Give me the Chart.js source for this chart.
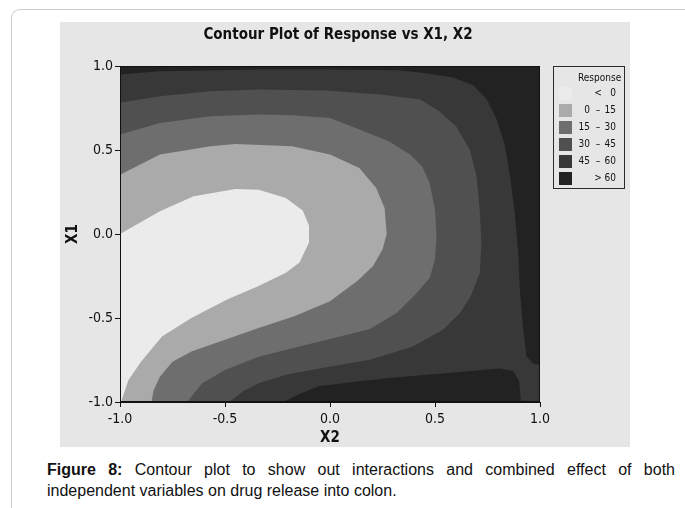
<!DOCTYPE html>
<html lang="en">
<head>
<meta charset="utf-8">
<title>Contour Plot of Response vs X1, X2</title>
<script src="https://cdn.jsdelivr.net/npm/chart.js@4.4.1/dist/chart.umd.min.js"></script>
<style>
  html, body { margin: 0; padding: 0; background: #fff; }
  body { position: relative; width: 685px; height: 508px; overflow: hidden; }
  .page-edge {
    position: absolute; left: 11px; top: 9px; width: 720px; height: 540px;
    border-top: 1.5px solid #cbcbcb; border-left: 1.5px solid #cbcbcb;
    border-top-left-radius: 9px;
  }
  .panel { position: absolute; left: 60px; top: 22px; width: 570px; height: 425px; background: #e6e6e6; }
  .caption {
    position: absolute; left: 47px; top: 459px; width: 628px; color: #111;
    font: 16px/21px 'Liberation Sans', Arial, sans-serif;
  }
  .caption .first { text-align: justify; text-align-last: justify; }
</style>
</head>
<body>
<div class="page-edge"></div>
<div class="panel"><canvas id="contour"></canvas></div>
<div class="caption">
  <div class="first"><b>Figure 8:</b> Contour plot to show out interactions and combined effect of both</div>
  <div>independent variables on drug release into colon.</div>
</div>
<script>
const FONT = "'DejaVu Sans Condensed', 'DejaVu Sans', sans-serif";

// --- Data ---
const x2Range = [-1, 1];
const x1Range = [-1, 1];
const tickValues = [-1, -0.5, 0, 0.5, 1];
const levels = [0, 15, 30, 45, 60];

// contour lines as [X2, X1] pairs, from the left/top edge round to the bottom edge
const line0 = [
  [-1.00, 0.00], [-0.81, 0.135], [-0.65, 0.225], [-0.45, 0.268], [-0.34, 0.264],
  [-0.21, 0.215], [-0.13, 0.14], [-0.10, 0.05], [-0.10, -0.05], [-0.145, -0.17],
  [-0.21, -0.23], [-0.34, -0.31], [-0.49, -0.39], [-0.66, -0.50], [-0.80, -0.61],
  [-0.90, -0.76], [-0.96, -0.87], [-0.995, -1.00]
];
const line15 = [
  [-1.00, 0.353], [-0.81, 0.473], [-0.57, 0.522], [-0.45, 0.536], [-0.18, 0.522],
  [0.00, 0.473], [0.14, 0.393], [0.22, 0.274], [0.26, 0.155], [0.27, 0.00],
  [0.25, -0.093], [0.205, -0.19], [0.13, -0.28], [0.00, -0.40], [-0.17, -0.49],
  [-0.34, -0.56], [-0.50, -0.63], [-0.66, -0.70], [-0.75, -0.76], [-0.81, -0.85],
  [-0.84, -0.93], [-0.85, -1.00]
];
const line30 = [
  [-1.00, 0.592], [-0.81, 0.661], [-0.57, 0.701], [-0.34, 0.711], [-0.18, 0.707],
  [0.00, 0.691], [0.14, 0.622], [0.28, 0.552], [0.38, 0.475], [0.44, 0.40],
  [0.475, 0.30], [0.50, 0.145], [0.507, -0.01], [0.50, -0.15], [0.475, -0.26],
  [0.41, -0.355], [0.316, -0.471], [0.19, -0.565], [0.00, -0.625], [-0.18, -0.68],
  [-0.34, -0.73], [-0.50, -0.81], [-0.61, -0.89], [-0.68, -1.00]
];
const line45 = [
  [-1.00, 0.781], [-0.81, 0.82], [-0.57, 0.85], [-0.34, 0.86], [-0.02, 0.854],
  [0.24, 0.83], [0.43, 0.80], [0.52, 0.731], [0.60, 0.641], [0.666, 0.502],
  [0.698, 0.343], [0.713, 0.145], [0.721, -0.054], [0.713, -0.232], [0.67, -0.37],
  [0.618, -0.471], [0.538, -0.57], [0.395, -0.67], [0.19, -0.749], [-0.05, -0.80],
  [-0.21, -0.838], [-0.34, -0.888], [-0.415, -0.938], [-0.48, -1.00]
];
const line60Upper = [
  [-1.00, 0.949], [-0.81, 0.969], [-0.34, 0.979], [0.00, 0.979], [0.32, 0.975],
  [0.43, 0.962], [0.586, 0.932], [0.682, 0.885], [0.745, 0.805], [0.793, 0.685],
  [0.833, 0.525], [0.857, 0.345], [0.88, 0.125], [0.896, -0.113], [0.904, -0.33],
  [0.92, -0.57], [0.936, -0.729], [0.968, -0.773], [1.00, -0.779]
];
const line60Lower = [
  [0.909, -1.00], [0.901, -0.876], [0.872, -0.816], [0.809, -0.80], [0.586, -0.825],
  [0.268, -0.858], [-0.05, -0.905], [-0.15, -0.955], [-0.22, -1.00]
];

const bandColors = ['#ebebeb', '#aaaaaa', '#6e6e6e', '#505050', '#383838', '#222222'];

// legend columns: "low  –  high"
const legendLow = ['', ...levels.slice(0, -1).map(String), ''];
const legendSym = ['<', ...levels.slice(1).map(() => '–'), '>'];
const legendHigh = [String(levels[0]), ...levels.slice(1).map(String), String(levels[levels.length - 1])];

// --- Filled bands: each is "response below level", drawn lightest on top ---
const lowCorner = [x2Range[0], x1Range[0]];
const rightCorner = [x2Range[1], x1Range[0]];
const regions = [
  [...line0, lowCorner],
  [...line15, lowCorner],
  [...line30, lowCorner],
  [...line45, lowCorner],
  [...line60Upper, rightCorner, ...line60Lower, lowCorner],
  [lowCorner, [x2Range[0], x1Range[1]], [x2Range[1], x1Range[1]], rightCorner]
];

const datasets = regions.map((pts, i) => ({
  label: `${legendLow[i]} ${legendSym[i]} ${legendHigh[i]}`.trim(),
  data: pts.map(([x, y]) => ({ x, y })),
  xAxisID: 'x',
  yAxisID: 'y',
  showLine: true,
  fill: 'shape',
  backgroundColor: bandColors[i],
  borderColor: 'transparent',
  borderWidth: 0,
  pointRadius: 0,
  pointHoverRadius: 0,
  tension: 0
}));

// --- Plugins ---
const plotFrame = {
  id: 'plotFrame',
  afterDatasetsDraw(chart) {
    const { ctx, chartArea: a } = chart;
    ctx.save();
    ctx.strokeStyle = '#111';
    ctx.lineWidth = 1;
    ctx.strokeRect(Math.round(a.left) + 0.5, Math.round(a.top) + 0.5, Math.round(a.width) - 1, Math.round(a.height) - 1);
    ctx.restore();
  }
};

const legendBox = {
  id: 'legendBox',
  afterDraw(chart) {
    const { ctx, chartArea } = chart;
    const left = Math.round(chartArea.right) + 13;
    const top = Math.round(chartArea.top);
    const w = 71, h = 122, rowH = 17;
    ctx.save();
    ctx.strokeStyle = '#2a2a2a';
    ctx.lineWidth = 1;
    ctx.strokeRect(left + 0.5, top + 0.5, w, h);
    ctx.font = `10px ${FONT}`;
    ctx.fillStyle = '#111';
    ctx.textBaseline = 'middle';
    ctx.textAlign = 'left';
    ctx.fillText('Response', left + 25, top + 12);
    chart.data.datasets.forEach((ds, i) => {
      const y = top + 27 + i * rowH;
      ctx.fillStyle = ds.backgroundColor;
      ctx.fillRect(left + 6, y - 6, 13, 13);
      ctx.fillStyle = '#111';
      ctx.textAlign = 'right';
      ctx.fillText(legendLow[i], left + 37, y);
      ctx.textAlign = 'center';
      ctx.fillText(legendSym[i], left + 45, y);
      ctx.textAlign = 'right';
      ctx.fillText(legendHigh[i], left + 63, y);
    });
    ctx.restore();
  }
};

// --- Chart ---
const axisTicks = {
  color: '#111',
  font: { family: FONT, size: 14 },
  callback: v => Number(v).toFixed(1)
};

new Chart(document.getElementById('contour'), {
  type: 'scatter',
  data: { datasets },
  options: {
    responsive: true,
    maintainAspectRatio: false,
    animation: false,
    events: [],
    layout: { padding: { left: 0, right: 14, top: 0, bottom: 0 } },
    scales: {
      x: {
        type: 'linear', position: 'bottom', min: x2Range[0], max: x2Range[1],
        afterBuildTicks: s => { s.ticks = tickValues.map(v => ({ value: v })); },
        afterFit: s => { s.height = 45; },
        grid: { drawOnChartArea: false, tickLength: 5, color: '#111' },
        border: { color: '#111' },
        ticks: { ...axisTicks, padding: 4, maxRotation: 0 },
        title: { display: true, text: 'X2', color: '#111', padding: { top: 0, bottom: 0 }, font: { family: FONT, size: 15, weight: 'bold' } }
      },
      y: {
        type: 'linear', position: 'left', min: x1Range[0], max: x1Range[1],
        afterBuildTicks: s => { s.ticks = tickValues.map(v => ({ value: v })); },
        afterFit: s => { s.width = 60; },
        grid: { drawOnChartArea: false, tickLength: 5, color: '#111' },
        border: { color: '#111' },
        ticks: { ...axisTicks, padding: 2 },
        title: { display: true, text: 'X1', color: '#111', padding: { top: 4, bottom: 0 }, font: { family: FONT, size: 15, weight: 'bold' } }
      },
      yr: {
        type: 'linear', position: 'right', min: x1Range[0], max: x1Range[1],
        afterFit: s => { s.width = 76; },
        grid: { display: false },
        border: { display: false },
        ticks: { display: false }
      }
    },
    plugins: {
      legend: { display: false },
      tooltip: { enabled: false },
      title: {
        display: true,
        text: 'Contour Plot of Response vs X1, X2',
        color: '#111',
        font: { family: FONT, size: 15, weight: 'bold' },
        padding: { top: 4.5, bottom: 21.5 }
      }
    }
  },
  plugins: [plotFrame, legendBox]
});
</script>
</body>
</html>
